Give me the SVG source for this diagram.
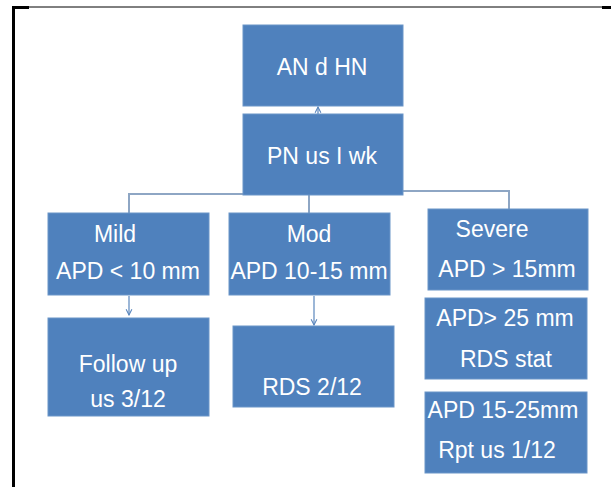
<svg xmlns="http://www.w3.org/2000/svg" width="611" height="487" viewBox="0 0 611 487">
<defs>
<style>
.box{fill:#4F81BD;stroke:#6b95c8;stroke-width:1}
.t{font-family:"Liberation Sans",Arial,sans-serif;font-size:23px;fill:#ffffff;text-anchor:middle}
.conn{fill:none;stroke:#8ea6c4;stroke-width:2}
.arr{fill:none;stroke:#5a86bd;stroke-width:1.2}
</style>
<marker id="ah" viewBox="0 0 10 10" refX="9" refY="5" markerWidth="6" markerHeight="6" orient="auto">
<path d="M1,1 L9,5 L1,9" fill="none" stroke="#5a86bd" stroke-width="1.5"/>
</marker>
</defs>
<rect width="611" height="487" fill="#ffffff"/>
<g id="frame">
<line x1="13" y1="7" x2="611" y2="7" stroke="#000" stroke-width="1"/>
<rect x="12" y="6" width="17" height="3" fill="#000"/>
<rect x="602" y="6" width="9" height="3" fill="#000"/>
<rect x="12" y="6" width="3" height="481" fill="#000"/>
</g>
<g id="connectors">
<polyline class="conn" points="243,194 129,194 129,213"/>
<polyline class="conn" points="403,191 509,191 509,209"/>
<line class="conn" x1="309" y1="195" x2="309" y2="213"/>
<line class="arr" x1="318" y1="114" x2="318" y2="107" marker-end="url(#ah)"/>
<line class="arr" x1="129" y1="296" x2="129" y2="315" marker-end="url(#ah)"/>
<line class="arr" x1="314" y1="296" x2="314" y2="325" marker-end="url(#ah)"/>
</g>
<g id="n-an">
<rect class="box" x="243" y="25" width="160" height="81"/>
<text class="t" x="322" y="75">AN d HN</text>
</g>
<g id="n-pn">
<rect class="box" x="243" y="114" width="160" height="81"/>
<text class="t" x="322" y="164">PN us I wk</text>
</g>
<g id="n-mild">
<rect class="box" x="48" y="213" width="161" height="82"/>
<text class="t" x="115" y="242">Mild</text>
<text class="t" x="128" y="279">APD &lt; 10 mm</text>
</g>
<g id="n-mod">
<rect class="box" x="229" y="213" width="161" height="82"/>
<text class="t" x="309" y="242">Mod</text>
<text class="t" x="309" y="279">APD 10-15 mm</text>
</g>
<g id="n-severe">
<rect class="box" x="428" y="209" width="160" height="81"/>
<text class="t" x="492" y="237">Severe</text>
<text class="t" x="507" y="277">APD &gt; 15mm</text>
</g>
<g id="n-apd25">
<rect class="box" x="425" y="298" width="162" height="81"/>
<text class="t" x="505" y="326">APD&gt; 25 mm</text>
<text class="t" x="506" y="367">RDS stat</text>
</g>
<g id="n-apd1525">
<rect class="box" x="425" y="392" width="162" height="81"/>
<text class="t" x="503" y="418">APD 15-25mm</text>
<text class="t" x="497" y="458">Rpt us 1/12</text>
</g>
<g id="n-follow">
<rect class="box" x="48" y="318" width="161" height="98"/>
<text class="t" x="128" y="372">Follow up</text>
<text class="t" x="128" y="407">us 3/12</text>
</g>
<g id="n-rds">
<rect class="box" x="233" y="326" width="161" height="81"/>
<text class="t" x="312" y="395">RDS 2/12</text>
</g>
</svg>
